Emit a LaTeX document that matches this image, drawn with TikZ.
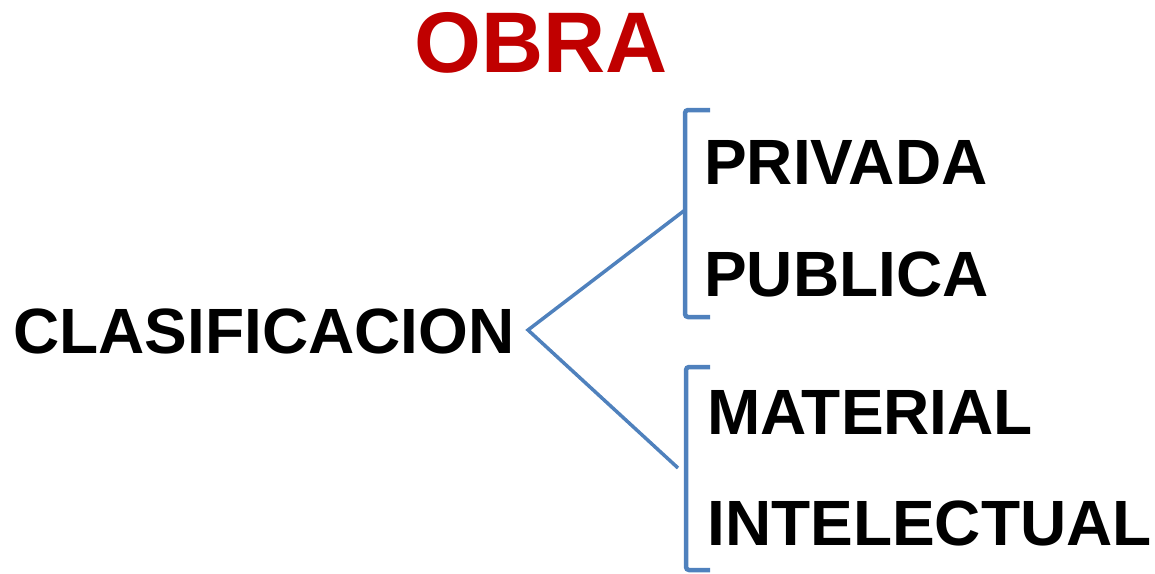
\documentclass[tikz,border=0pt]{standalone}
\usepackage{fontspec}
\setmainfont{Liberation Sans}
\definecolor{obrared}{HTML}{C00000}
\definecolor{brblue}{HTML}{4F81BD}
\begin{document}
\begin{tikzpicture}[x=1pt,y=-1pt,
  lbl/.style={inner sep=0pt,anchor=base west,font=\fontsize{64}{70}\selectfont\bfseries},
  brk/.style={draw=brblue,line width=4.5pt,rounded corners=3pt},
  conn/.style={draw=brblue,line width=3.5pt}]
\useasboundingbox (0,0) rectangle (1155,573);
\node[inner sep=0pt,anchor=base west,text=obrared,font=\fontsize{86}{90}\selectfont\bfseries] (obra) at (414,72) {OBRA};
\node[lbl] (clas) at (13,353) {CLASIFICACION};
\node[lbl] (priv) at (704,184) {PRIVADA};
\node[lbl] (publ) at (704,296) {PUBLICA};
\node[lbl] (mate) at (707,434) {MATERIAL};
\node[lbl] (inte) at (707,545) {INTELECTUAL};
\coordinate (apex) at (528,330);
\coordinate (b1) at (685,210);
\coordinate (b2) at (678,468);
\draw[brk] (710,110) -- (685,110) -- (685,317) -- (710,317);
\draw[brk] (710,367) -- (686,367) -- (686,570) -- (710,570);
\draw[conn] (b1) -- (apex) -- (b2);
\end{tikzpicture}
\end{document}
